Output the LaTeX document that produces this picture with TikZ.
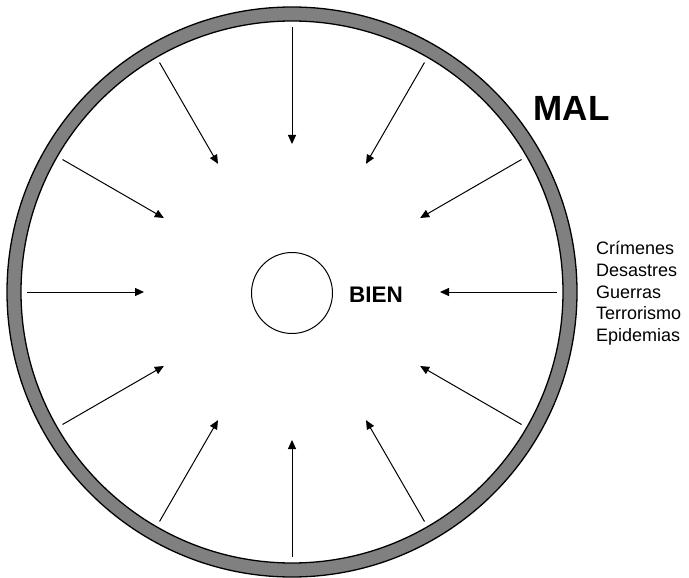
\documentclass[tikz,border=0pt]{standalone}
\usepackage{fontspec}
\setmainfont{Liberation Sans}
\usetikzlibrary{arrows.meta}
\begin{document}
\begin{tikzpicture}[x=1pt,y=-1pt,
  ring/.style={draw=black,line width=1.3pt},
  radial/.style={line width=1pt,-{Triangle[length=9pt,width=8pt]}},
  biglbl/.style={font=\fontsize{22.5}{26}\selectfont\bfseries,inner sep=0pt},
  mallbl/.style={font=\fontsize{35}{40}\selectfont\bfseries,inner sep=0pt},
  listlbl/.style={font=\fontsize{18}{21.7}\selectfont,align=left,inner sep=0pt}
]
\useasboundingbox (0,0) rectangle (689,578);
\fill[white] (0,0) rectangle (689,578);
\coordinate (c) at (292,292);
\draw[ring,fill={rgb,255:red,128;green,128;blue,128}] (c) circle[radius=285pt];
\draw[ring,fill=white] (c) circle[radius=271pt];
\node[circle,draw,line width=1pt,minimum size=81pt,inner sep=0pt] (bien) at (292,293) {};
\node[biglbl,anchor=west] (bientxt) at (349,295) {BIEN};
\node[mallbl] (mal) at (571.5,108) {MAL};
\node[listlbl,anchor=west] (lista) at (596,293.5) {Crímenes\\Desastres\\Guerras\\Terrorismo\\Epidemias};
\foreach \a in {0,30,...,330} {
  \coordinate (t\a) at ([shift={(\a:265pt)}]c);
  \coordinate (h\a) at ([shift={(\a:148pt)}]c);
  \draw[radial] (t\a) -- (h\a);
}
\end{tikzpicture}
\end{document}
